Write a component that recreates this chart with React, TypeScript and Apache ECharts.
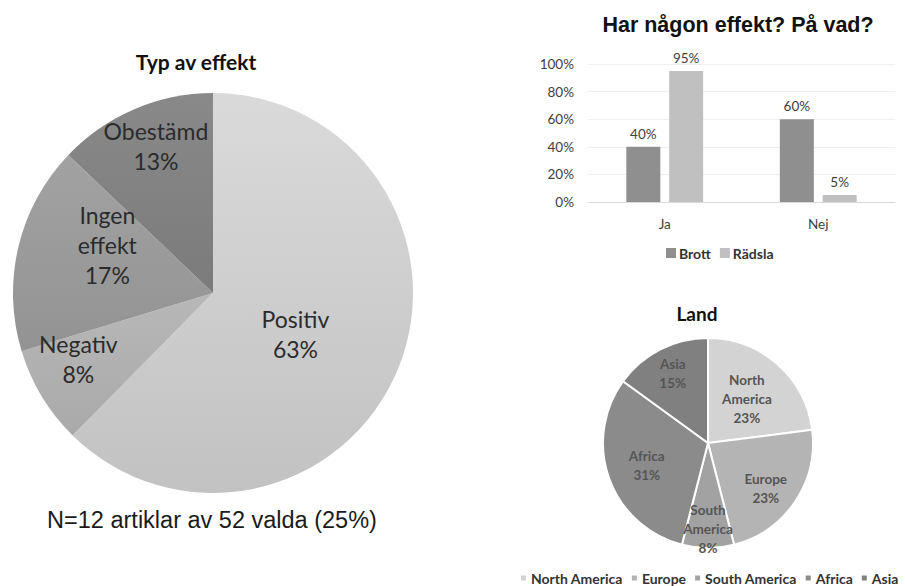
import React, { useEffect, useRef } from "react";
import * as echarts from "echarts";

// Left pie: Typ av effekt
const effectCategories = ["Positiv", "Negativ", "Ingen effekt", "Obestämd"];
const effectValues = [63, 8, 17, 13];

// Bar chart: Har någon effekt? På vad?
const answerCategories = ["Ja", "Nej"];
const brottValues = [40, 60];
const radslaValues = [95, 5];
const yTicks = [0, 20, 40, 60, 80, 100];

// Right pie: Land
const landCategories = ["North America", "Europe", "South America", "Africa", "Asia"];
const landValues = [23, 23, 8, 31, 15];

const CAL = "Lato, 'Open Sans', sans-serif";
const ARIAL = "'Liberation Sans', Arial, sans-serif";

function grad(top: string, bottom: string) {
  return new echarts.graphic.LinearGradient(0, 0, 0, 1, [
    { offset: 0, color: top },
    { offset: 1, color: bottom },
  ]);
}

// label placement: radial factor and small angular nudge (degrees) per slice
function pieLabelLayout(
  values: number[],
  cx: number,
  cy: number,
  R: number,
  factors: number[],
  nudges: number[]
) {
  const total = values.reduce((a, b) => a + b, 0);
  return (p: any) => {
    const i = p.dataIndex;
    let cum = 0;
    for (let k = 0; k < i; k++) cum += values[k];
    const mid = ((cum + values[i] / 2) / total) * Math.PI * 2 + (nudges[i] * Math.PI) / 180;
    const r = R * factors[i];
    return {
      x: cx + r * Math.sin(mid),
      y: cy - r * Math.cos(mid),
      align: "center",
      verticalAlign: "middle",
    };
  };
}

export default function App() {
  const ref = useRef<HTMLDivElement>(null);
  useEffect(() => {
    document.body.style.margin = "0";
    const chart = echarts.init(ref.current!, null, { renderer: "svg" });
    const effectColors = [
      grad("#dadada", "#c2c2c2"),
      grad("#b8b8b8", "#a9a9a9"),
      grad("#a2a2a2", "#939393"),
      grad("#898989", "#7b7b7b"),
    ];
    const landColors = ["#d3d3d3", "#b4b4b4", "#a2a2a2", "#8b8b8b", "#808080"];
    const splitName = (n: string) => n.replace(" ", "\n");

    chart.setOption({
      animation: false,
      backgroundColor: "#ffffff",
      graphic: [
        {
          type: "text",
          x: 196,
          y: 61,
          style: {
            text: "Typ av effekt",
            font: `bold 21px ${CAL}`,
            fill: "#111111",
            textAlign: "center",
            textVerticalAlign: "middle",
          },
        },
        {
          type: "text",
          x: 212,
          y: 520,
          style: {
            text: "N=12 artiklar av 52 valda (25%)",
            font: `23.5px ${ARIAL}`,
            fill: "#1a1a1a",
            textAlign: "center",
            textVerticalAlign: "middle",
          },
        },
        {
          type: "text",
          x: 738,
          y: 25,
          style: {
            text: "Har någon effekt? På vad?",
            font: `bold 21.5px ${ARIAL}`,
            fill: "#111111",
            textAlign: "center",
            textVerticalAlign: "middle",
          },
        },
        {
          type: "text",
          x: 697,
          y: 313,
          style: {
            text: "Land",
            font: `bold 19px ${CAL}`,
            fill: "#111111",
            textAlign: "center",
            textVerticalAlign: "middle",
          },
        },
      ],
      legend: [
        {
          data: ["Brott", "Rädsla"],
          left: 666,
          top: 246,
          padding: 0,
          icon: "rect",
          itemWidth: 10,
          itemHeight: 10,
          itemGap: 9,
          textStyle: { fontFamily: CAL, fontWeight: "bold", fontSize: 14, color: "#333333", padding: [0, 0, 0, -2] },
        },
        {
          data: landCategories,
          left: 519,
          top: 571,
          width: 400,
          padding: 0,
          icon: "rect",
          itemWidth: 7,
          itemHeight: 7,
          itemGap: 7,
          textStyle: { fontFamily: CAL, fontWeight: "bold", fontSize: 14, color: "#333333", padding: [0, 0, 0, -1] },
        },
      ],
      grid: { left: 588, right: 10, top: 64, bottom: 384, containLabel: false },
      xAxis: {
        type: "category",
        data: answerCategories,
        axisLine: { lineStyle: { color: "#d9d9d9", width: 1 } },
        axisTick: { show: false },
        axisLabel: { fontFamily: CAL, fontSize: 13.5, color: "#404040", margin: 15 },
      },
      yAxis: {
        type: "value",
        min: yTicks[0],
        max: yTicks[yTicks.length - 1],
        interval: 20,
        axisLine: { show: false },
        axisTick: { show: false },
        splitLine: { lineStyle: { color: "#f0f0f0" } },
        axisLabel: { fontFamily: CAL, fontSize: 13.5, color: "#404040", margin: 14, formatter: "{value}%" },
      },
      series: [
        {
          type: "pie",
          center: [213, 293],
          radius: 200,
          startAngle: 90,
          clockwise: true,
          silent: true,
          legendHoverLink: false,
          data: effectCategories.map((n, i) => ({
            name: n,
            value: effectValues[i],
            itemStyle: { color: effectColors[i] },
          })),
          itemStyle: { borderWidth: 0 },
          label: {
            show: true,
            position: "inside",
            fontFamily: CAL,
            fontSize: 23,
            lineHeight: 30,
            color: "#2b2b2b",
            formatter: (p: any) => `${splitName(p.name)}\n${p.value}%`,
          },
          labelLine: { show: false },
          labelLayout: pieLabelLayout(effectValues, 213, 293, 200, [0.46, 0.75, 0.58, 0.79], [4, 5, 11, 2]),
        },
        {
          type: "bar",
          name: "Brott",
          data: brottValues,
          barWidth: 34,
          barGap: "26%",
          itemStyle: { color: "#8f8f8f" },
          label: {
            show: true,
            position: "top",
            distance: 6,
            fontFamily: CAL,
            fontSize: 13.5,
            color: "#404040",
            formatter: "{c}%",
          },
        },
        {
          type: "bar",
          name: "Rädsla",
          data: radslaValues,
          barWidth: 34,
          barGap: "26%",
          itemStyle: { color: "#c0c0c0" },
          label: {
            show: true,
            position: "top",
            distance: 6,
            fontFamily: CAL,
            fontSize: 13.5,
            color: "#404040",
            formatter: "{c}%",
          },
        },
        {
          type: "pie",
          center: [708, 443],
          radius: 105,
          startAngle: 90,
          clockwise: true,
          data: landCategories.map((n, i) => ({
            name: n,
            value: landValues[i],
            itemStyle: { color: landColors[i] },
          })),
          itemStyle: { borderColor: "#ffffff", borderWidth: 2 },
          label: {
            show: true,
            position: "inside",
            fontFamily: CAL,
            fontWeight: "bold",
            fontSize: 13.5,
            lineHeight: 19,
            color: "#555555",
            formatter: (p: any) => `${splitName(p.name)}\n${p.value}%`,
          },
          labelLine: { show: false },
          labelLayout: pieLabelLayout(landValues, 708, 443, 105, [0.56, 0.7, 0.82, 0.62, 0.74], [0, 4, 0, 0, 0]),
        },
      ],
    });
    return () => chart.dispose();
  }, []);
  return <div ref={ref} style={{ width: 905, height: 586 }} />;
}
